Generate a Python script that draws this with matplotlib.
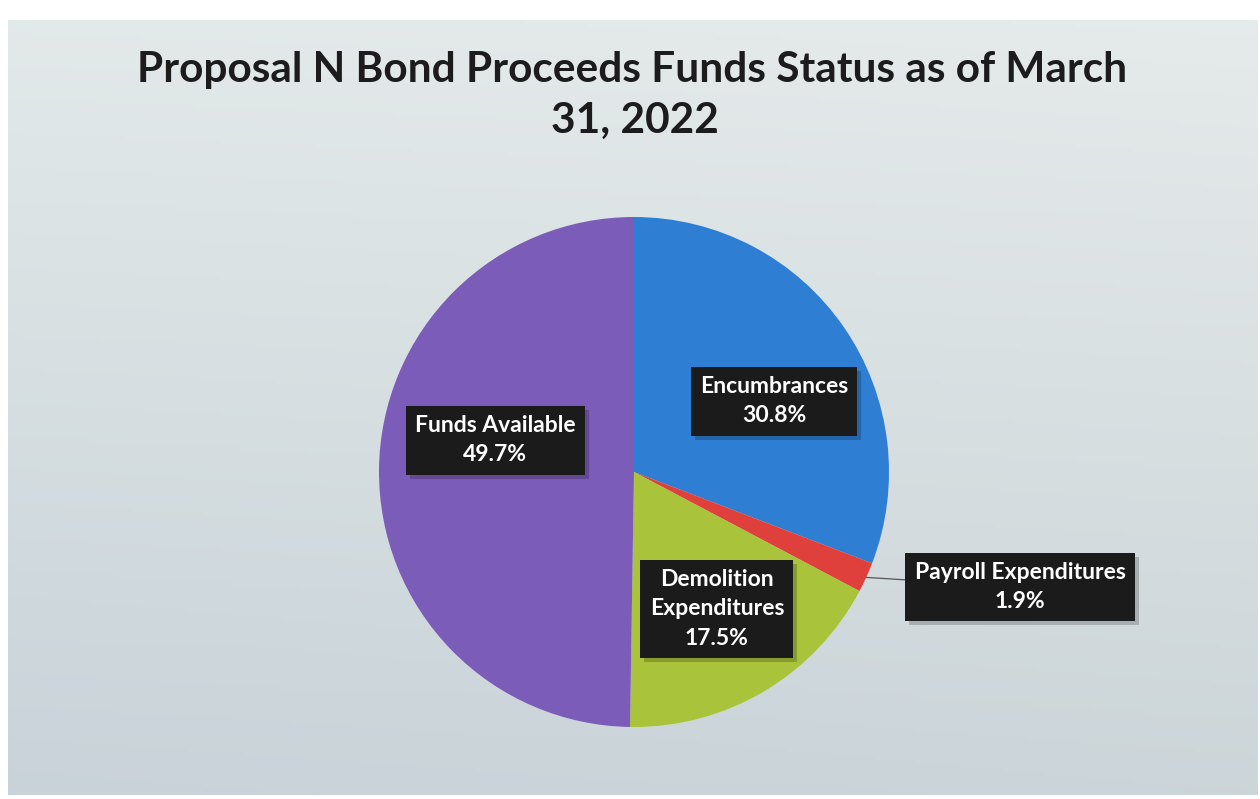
import numpy as np
import matplotlib.pyplot as plt
from matplotlib.patches import Rectangle
from matplotlib.transforms import IdentityTransform

# funds status, clockwise from 12 o'clock
categories = ["Encumbrances", "Payroll Expenditures",
              "Demolition Expenditures", "Funds Available"]
percent = [30.8, 1.9, 17.5, 49.7]
label_text = ["Encumbrances", "Payroll Expenditures",
              "Demolition\nExpenditures", "Funds Available"]
colors = ["#2e7fd4", "#e0403c", "#a9c33a", "#7c5cb9"]

title_lines = ["Proposal N Bond Proceeds Funds Status as of March", "31, 2022"]

W, H = 1260, 799
fig = plt.figure(figsize=(W / 100, H / 100), dpi=100, facecolor="white")

# slide background: soft grey-blue gradient
bg = fig.add_axes([8 / W, 4 / H, 1250 / W, 775 / H])
tl = np.array([0.89, 0.915, 0.915])
tr = np.array([0.90, 0.92, 0.92])
bl = np.array([0.785, 0.825, 0.85])
br = np.array([0.80, 0.835, 0.85])
yy, xx = np.mgrid[0:1:200j, 0:1:300j]
grad = ((1 - yy)[..., None] * ((1 - xx)[..., None] * tl + xx[..., None] * tr)
        + yy[..., None] * ((1 - xx)[..., None] * bl + xx[..., None] * br))
bg.imshow(grad, aspect="auto", extent=(0, 1, 0, 1), origin="upper")
bg.axis("off")

fig.text(632 / W, 1 - 70 / H, title_lines[0], ha="center", va="center",
         fontsize=30.5, fontweight="bold", family="Lato", color="#1c1c1c")
fig.text(635 / W, 1 - 121 / H, title_lines[1], ha="center", va="center",
         fontsize=30.5, fontweight="bold", family="Lato", color="#1c1c1c")

# pie: centre (634, 472) px, radius 255 px
r = 255
ax = fig.add_axes([(634 - r) / W, (H - 472 - r) / H, 2 * r / W, 2 * r / H])
wedges, _ = ax.pie(percent, colors=colors, startangle=90, counterclock=False,
                   radius=1, wedgeprops=dict(linewidth=0))
ax.set_xlim(-1, 1)
ax.set_ylim(-1, 1)
ax.set_aspect("equal")
ax.axis("off")

box = dict(boxstyle="square,pad=0.4", facecolor="#1b1b1b", edgecolor="none")
label_pos = [(0.549, 0.278), (1.514, -0.451), (0.325, -0.537), (-0.545, 0.125)]
fmt = dict(ha="center", va="center", fontsize=16.5, fontweight="bold",
           family="Lato", linespacing=1.5, zorder=5)

labels = []
for i, (w, name, p) in enumerate(zip(wedges, label_text, percent)):
    txt = f"{name}\n{p:.1f}%"
    x, y = label_pos[i]
    if name.startswith("Payroll"):
        ang = np.deg2rad((w.theta1 + w.theta2) / 2)
        t = ax.annotate(txt, xy=(np.cos(ang), np.sin(ang)), xytext=(x, y),
                        color="white", bbox=box,
                        arrowprops=dict(arrowstyle="-", color="#555555", lw=0.9,
                                        shrinkA=0, shrinkB=0),
                        annotation_clip=False, **fmt)
    else:
        t = ax.text(x, y, txt, color="white", bbox=box, **fmt)
    labels.append(t)

# soft drop shadow behind each label box
fig.canvas.draw()
for t in labels:
    ext = t.get_bbox_patch().get_window_extent()
    ax.add_artist(Rectangle((ext.x0 + 4, ext.y0 - 4), ext.width, ext.height,
                            transform=IdentityTransform(), facecolor="black",
                            alpha=0.2, edgecolor="none", zorder=4,
                            clip_on=False))

fig.savefig("out.png", dpi=100, facecolor=fig.get_facecolor())
